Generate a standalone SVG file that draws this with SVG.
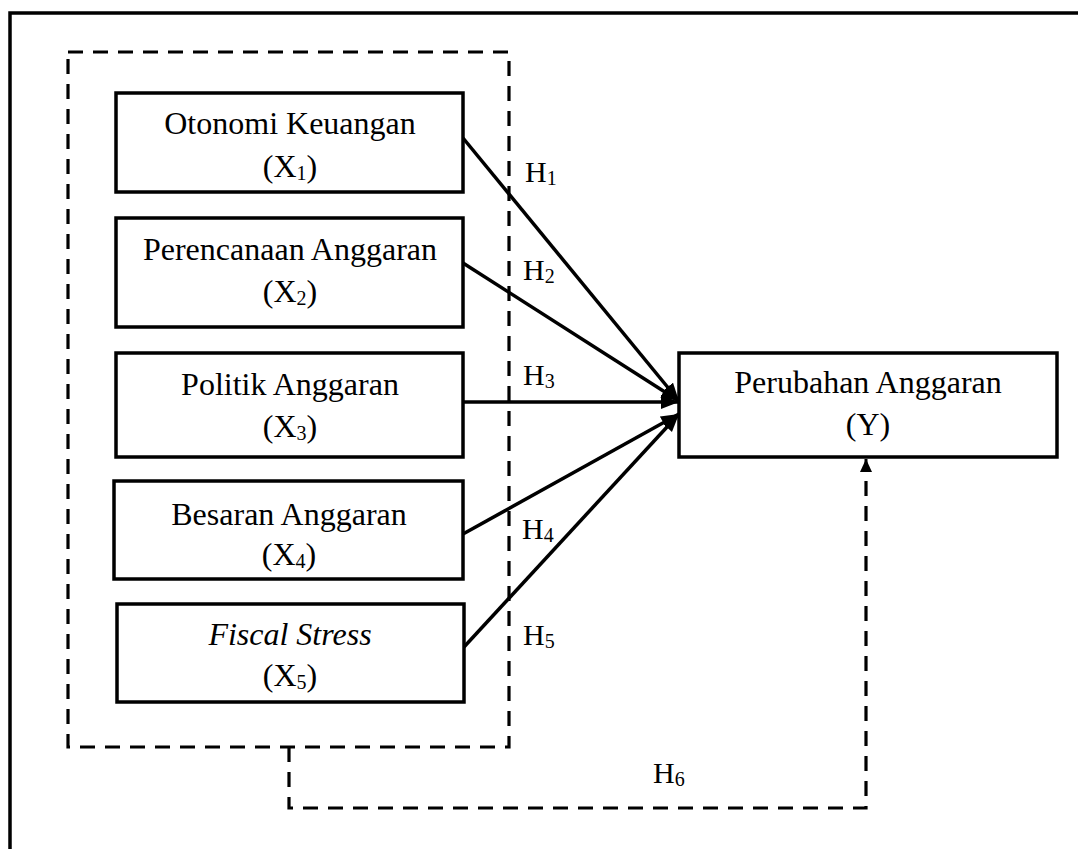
<svg xmlns="http://www.w3.org/2000/svg" width="1078" height="849" viewBox="0 0 1078 849">
<style>
.box{fill:#fff;stroke:#000;stroke-width:3.5}
.t{font-family:"Liberation Serif","Times New Roman",serif;font-size:32px;fill:#000;text-anchor:middle}
.h{font-family:"Liberation Serif","Times New Roman",serif;font-size:30px;fill:#000}
.sub{font-size:20px}
.arr{stroke:#000;stroke-width:3.5;fill:none;marker-end:url(#ah)}
.dash{stroke:#000;stroke-width:3.2;fill:none;stroke-dasharray:15 10}
</style>
<defs>
<marker id="ah" markerUnits="userSpaceOnUse" markerWidth="20" markerHeight="16" refX="18" refY="7" orient="auto">
<path d="M0,0 L18,7 L0,14 Z" fill="#000"/>
</marker>
<marker id="ah2" markerUnits="userSpaceOnUse" markerWidth="14" markerHeight="14" refX="13" refY="6" orient="auto">
<path d="M0,0 L13,6 L0,12 Z" fill="#000"/>
</marker>
</defs>
<rect width="1078" height="849" fill="#fff"/>
<path d="M10,849 V13 H1078" fill="none" stroke="#000" stroke-width="3.5"/>
<rect id="group-box" class="dash" x="68" y="52" width="441" height="695"/>
<g id="connectors">
<line class="arr" x1="463" y1="138" x2="679" y2="401"/>
<line class="arr" x1="463" y1="263" x2="679" y2="401"/>
<line class="arr" x1="463" y1="402" x2="679" y2="402"/>
<line class="arr" x1="463" y1="534" x2="679" y2="414"/>
<line class="arr" x1="464" y1="647" x2="679" y2="414"/>
<path class="dash" d="M289,747 V808 H866 V470"/>
<line x1="866" y1="472" x2="866" y2="459" stroke="#000" stroke-width="3" marker-end="url(#ah2)"/>
</g>
<g id="labels">
<text class="h" x="525" y="182">H<tspan class="sub" dy="3">1</tspan></text>
<text class="h" x="523" y="280">H<tspan class="sub" dy="3">2</tspan></text>
<text class="h" x="523" y="385">H<tspan class="sub" dy="3">3</tspan></text>
<text class="h" x="522" y="539">H<tspan class="sub" dy="3">4</tspan></text>
<text class="h" x="523" y="645">H<tspan class="sub" dy="3">5</tspan></text>
<text class="h" x="653" y="783">H<tspan class="sub" dy="3">6</tspan></text>
</g>
<g id="x1">
<rect class="box" x="116" y="93" width="347" height="99"/>
<text class="t" x="290" y="134">Otonomi Keuangan</text>
<text class="t" x="290" y="177">(X<tspan class="sub" dy="3">1</tspan><tspan dy="-3">)</tspan></text>
</g>
<g id="x2">
<rect class="box" x="116" y="218" width="347" height="109"/>
<text class="t" x="290" y="260">Perencanaan Anggaran</text>
<text class="t" x="290" y="302">(X<tspan class="sub" dy="3">2</tspan><tspan dy="-3">)</tspan></text>
</g>
<g id="x3">
<rect class="box" x="116" y="353" width="347" height="104"/>
<text class="t" x="290" y="395">Politik Anggaran</text>
<text class="t" x="290" y="437">(X<tspan class="sub" dy="3">3</tspan><tspan dy="-3">)</tspan></text>
</g>
<g id="x4">
<rect class="box" x="114" y="481" width="349" height="98"/>
<text class="t" x="289" y="525">Besaran Anggaran</text>
<text class="t" x="289" y="565">(X<tspan class="sub" dy="3">4</tspan><tspan dy="-3">)</tspan></text>
</g>
<g id="x5">
<rect class="box" x="117" y="604" width="347" height="98"/>
<text class="t" x="290" y="645" font-style="italic">Fiscal Stress</text>
<text class="t" x="290" y="686">(X<tspan class="sub" dy="3">5</tspan><tspan dy="-3">)</tspan></text>
</g>
<g id="y">
<rect class="box" x="679" y="353" width="378" height="104"/>
<text class="t" x="868" y="393">Perubahan Anggaran</text>
<text class="t" x="868" y="435">(Y)</text>
</g>
</svg>
